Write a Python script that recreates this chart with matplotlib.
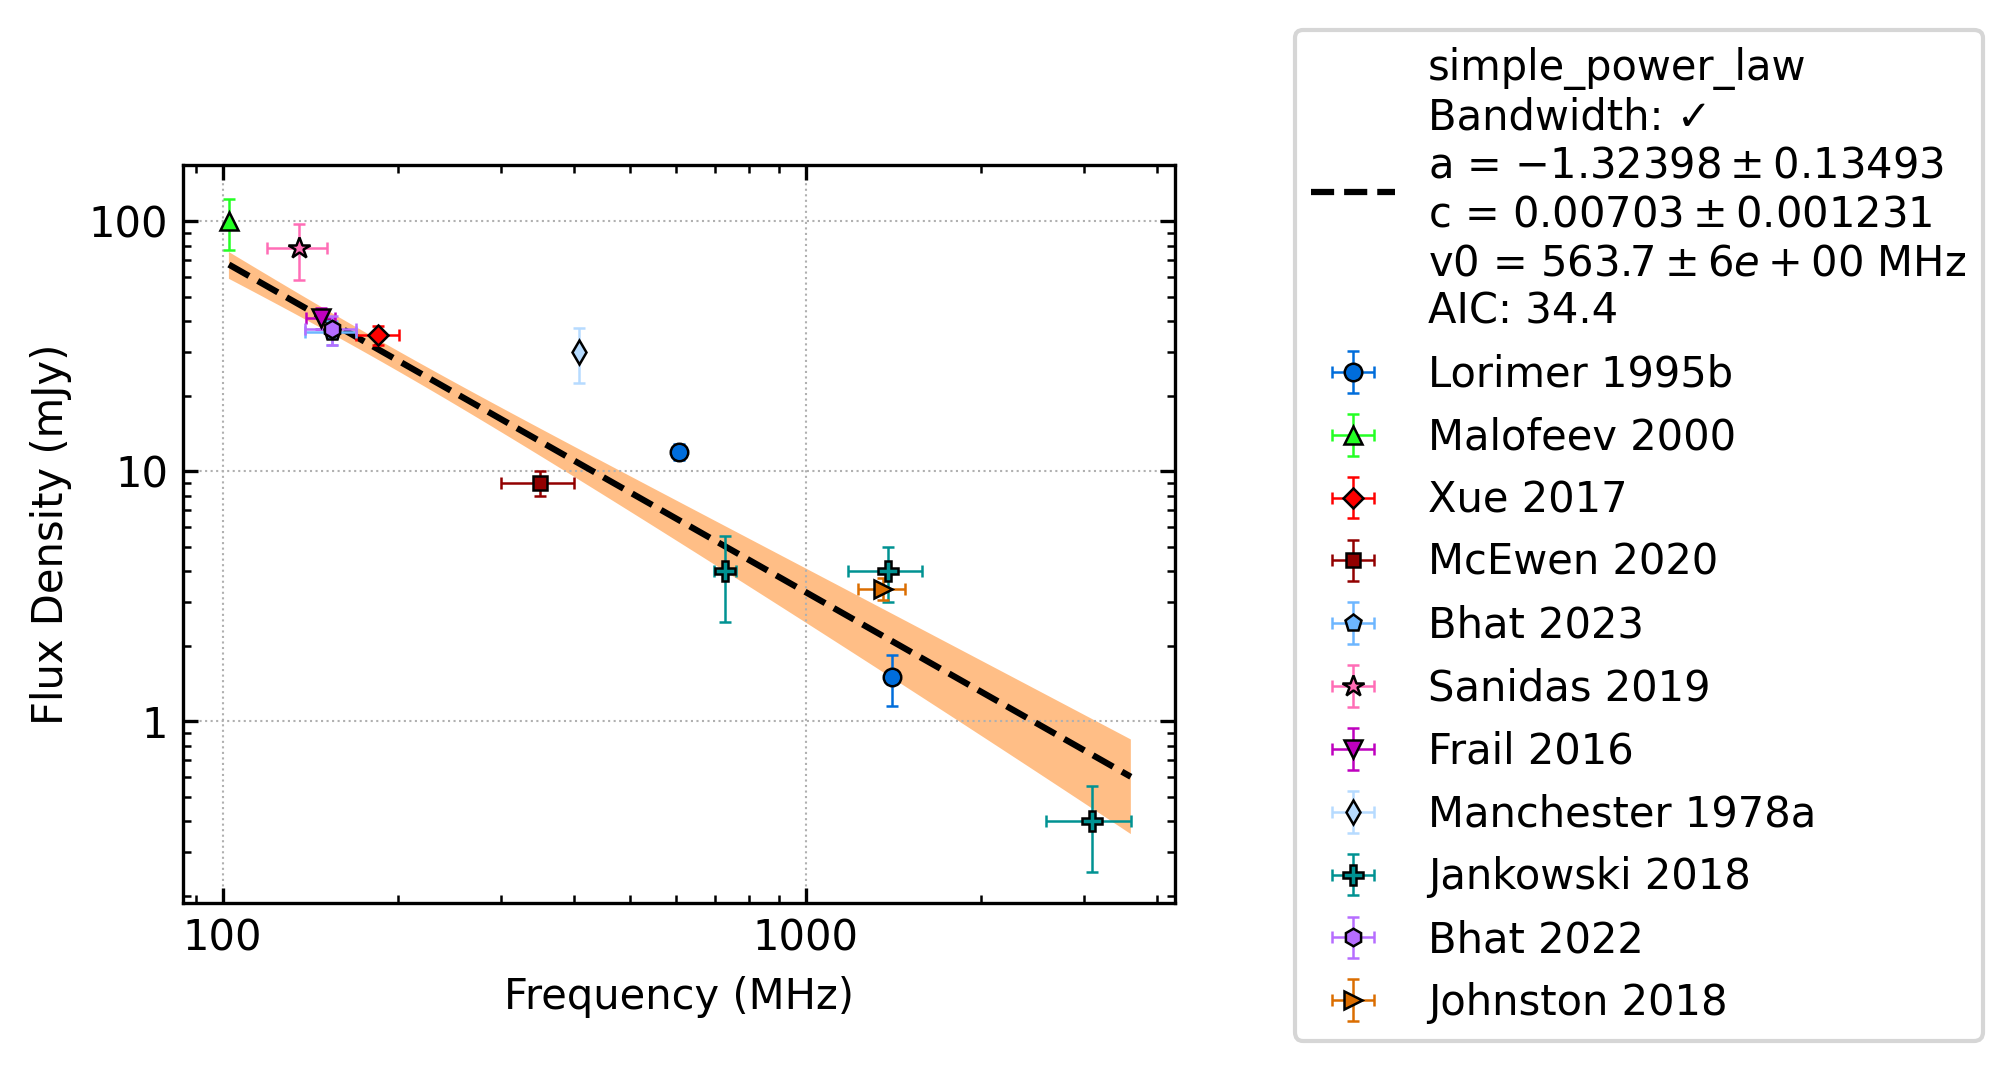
import numpy as np
import matplotlib
matplotlib.use("Agg")
import matplotlib.pyplot as plt
from matplotlib.ticker import FuncFormatter, NullFormatter

# ---------------- data ----------------
refs = ["Lorimer 1995b", "Malofeev 2000", "Xue 2017", "McEwen 2020", "Bhat 2023",
        "Sanidas 2019", "Frail 2016", "Manchester 1978a", "Jankowski 2018",
        "Bhat 2022", "Johnston 2018"]
freq_mhz = [[606, 1408], [102.5], [185], [350], [154], [135], [147.5], [408],
            [728, 1382, 3100], [154], [1355]]
freq_err = [[0, 0], [0], [15.4], [50], [15.4], [16], [8.5], [0],
            [32, 200, 512], [15.4], [125]]
flux_mjy = [[12.0, 1.5], [100], [35], [9.0], [36], [78], [41], [30],
            [4.0, 4.0, 0.4], [37], [3.4]]
flux_err = [[0.9, 0.35], [23], [3], [1.0], [4], [19.5], [4], [7.5],
            [1.5, 1.0, 0.15], [5], [0.35]]

# ---------------- styles ----------------
markers = ["o", "^", "D", "s", "p", "*", "v", "d", "P", "h", ">"]
marker_base = [7, 7, 5.5, 5.5, 7, 9, 7, 7, 8, 7, 7]
marker_scale = 0.6
colours = ["#006ddb", "#24ff24", "#ff0000", "#920000", "#6db6ff", "#ff6db6",
           "#bf00bf", "#b6dbff", "#009292", "#b66dff", "#db6d00"]

# fit result (simple power law)
fit_a, fit_a_err = -1.32398, 0.13493
fit_c, fit_c_err = 0.00703, 0.001231      # Jy
fit_v0, fit_v0_err = 563.7, 6.0           # MHz
fit_aic = 34.4
fit_corr = 0.85                           # estimated a-c correlation

x_ticks = [100, 1000]
y_ticks = [1, 10, 100]

# ---------------- figure ----------------
plt.rcParams.update({
    "font.size": 10,
    "xtick.direction": "in", "ytick.direction": "in",
    "xtick.top": True, "ytick.right": True,
    "xtick.minor.visible": True, "ytick.minor.visible": True,
})

W, H, DPI = 2012, 1070, 300
fig = plt.figure(figsize=(W / DPI, H / DPI), dpi=DPI)
ax = fig.add_axes([183 / W, 1 - 903 / H, (1175 - 183) / W, (903 - 165) / H])
ax.set_xscale("log")
ax.set_yscale("log")

# fit line and uncertainty band
all_f = np.concatenate([np.array(f, float) for f in freq_mhz])
all_fmax = np.concatenate([np.array(f, float) + np.array(e, float)
                           for f, e in zip(freq_mhz, freq_err)])
fit_freq = np.logspace(np.log10(all_f.min()), np.log10(all_fmax.max()), 300)
L = np.log(fit_freq / fit_v0)
fit_flux = fit_c * (fit_freq / fit_v0) ** fit_a * 1000.0
rel = np.sqrt((fit_c_err / fit_c) ** 2 + (L * fit_a_err) ** 2
              + 2 * L * fit_corr * fit_a_err * fit_c_err / fit_c)
fit_err = fit_flux * rel

fit_label = ("simple_power_law\nBandwidth: \u2713\n"
             f"a = ${fit_a:.5f} \\pm {fit_a_err:.5f}$\n"
             f"c = ${fit_c:.5f} \\pm {fit_c_err:.6f}$\n"
             f"v0 = ${fit_v0:.1f} \\pm {fit_v0_err:.0e}$ MHz\n"
             f"AIC: {fit_aic:.1f}")
ax.fill_between(fit_freq, fit_flux - fit_err, fit_flux + fit_err,
                facecolor="#ff7f0e", alpha=0.5, lw=0, zorder=1)
ax.plot(fit_freq, fit_flux, "k--", lw=1.5, label=fit_label, zorder=2)

for ref, f, fe, s, se, m, mb, c in zip(refs, freq_mhz, freq_err, flux_mjy,
                                       flux_err, markers, marker_base, colours):
    ax.errorbar(f, s, xerr=fe, yerr=se, fmt=m, color=c, ecolor=c,
                mec="k", mew=0.6, ms=mb * marker_scale, elinewidth=0.6,
                capthick=0.6, capsize=1.5, label=ref, zorder=3)

ax.set_xlim(85.5, 4300)
ax.set_ylim(0.188, 168)
ax.set_xticks(x_ticks)
ax.set_yticks(y_ticks)
fmt = FuncFormatter(lambda v, p: f"{v:g}")
ax.xaxis.set_major_formatter(fmt)
ax.yaxis.set_major_formatter(fmt)
ax.xaxis.set_minor_formatter(NullFormatter())
ax.yaxis.set_minor_formatter(NullFormatter())
ax.grid(which="major", ls=":", lw=0.5, color="#b0b0b0")
ax.set_xlabel("Frequency (MHz)")
ax.set_ylabel("Flux Density (mJy)")

ax.legend(loc="upper left", bbox_to_anchor=(1294.5 / W, 1 - 30 / H),
          bbox_transform=fig.transFigure, borderaxespad=0, fontsize=10)

fig.savefig("out.png", dpi=DPI)
